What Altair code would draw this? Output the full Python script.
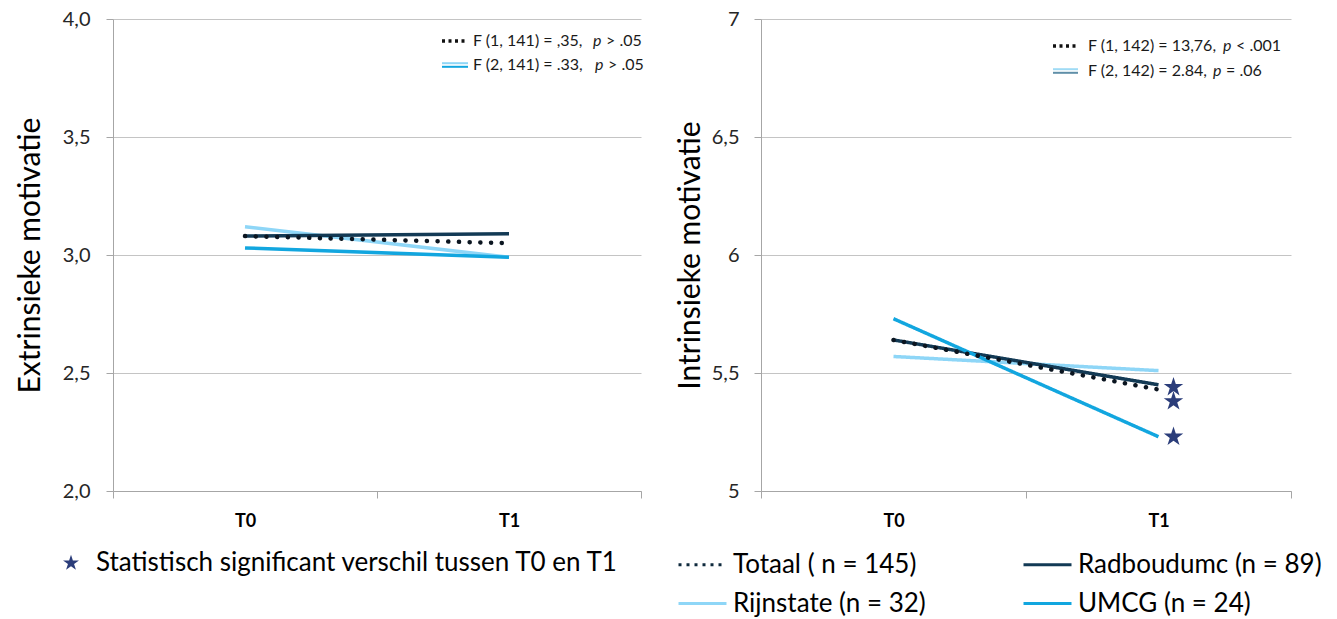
import altair as alt
import pandas as pd

FONT = "Lato"

# ---------------- data ----------------
tijdstippen = ["T0", "T1"]
groepen = ["Totaal ( n = 145)", "Rijnstate (n = 32)", "Radboudumc (n = 89)", "UMCG (n = 24)"]
kleuren = ["#0F2A3D", "#8ED6F7", "#133A55", "#12A6DF"]

extrinsiek_T0 = [3.08, 3.12, 3.08, 3.03]
extrinsiek_T1 = [3.05, 2.99, 3.09, 2.99]
intrinsiek_T0 = [5.64, 5.57, 5.64, 5.73]
intrinsiek_T1 = [5.43, 5.51, 5.45, 5.23]

sterren_groep = ["Radboudumc (n = 89)", "Totaal ( n = 145)", "UMCG (n = 24)"]
sterren_waarde = [5.44, 5.38, 5.23]
sterren_label = "Statistisch significant verschil tussen T0 en T1"

extr_ticks = [2.0, 2.5, 3.0, 3.5, 4.0]
intr_ticks = [5.0, 5.5, 6.0, 6.5, 7.0]

ann_links = [("F (1, 141) = ,35,", "p", "> .05"), ("F (2, 141) = .33,", "p", "> .05")]
ann_rechts = [("F (1, 142) = 13,76,", "p", "< .001"), ("F (2, 142) = 2.84,", "p", "= .06")]

STAR = ("M0,-1L0.2245,-0.309L0.9511,-0.309L0.3633,0.118L0.5878,0.809L0,0.382"
        "L-0.5878,0.809L-0.3633,0.118L-0.9511,-0.309L-0.2245,-0.309Z")
STAR_COLOR = "#2B3D7A"


def long_df(v0, v1):
    rows = []
    for g, a, b in zip(groepen, v0, v1):
        rows.append({"groep": g, "tijd": "T0", "waarde": a})
        rows.append({"groep": g, "tijd": "T1", "waarde": b})
    return pd.DataFrame(rows)


df_extr = long_df(extrinsiek_T0, extrinsiek_T1)
df_intr = long_df(intrinsiek_T0, intrinsiek_T1)
df_ster = pd.DataFrame({"groep": sterren_groep, "tijd": ["T1"] * len(sterren_groep),
                        "waarde": sterren_waarde, "label": [sterren_label] * len(sterren_groep)})

GRAY = "#A6A6A6"
TOTAAL = groepen[0]


def x_enc():
    return alt.X("tijd:N", sort=tijdstippen, bandPosition=0.5,
                 scale=alt.Scale(type="band", paddingInner=0, paddingOuter=0),
                 axis=alt.Axis(title=None, labelFont=FONT, labelFontSize=18, labelFontWeight="bold",
                               labelColor="black", labelPadding=14, tickBand="extent", tickSize=7,
                               tickColor=GRAY, domainColor=GRAY, labelAngle=0, grid=False))


def y_enc(domain, ticks, title, fmt, label_pad, title_pad):
    return alt.Y("waarde:Q", scale=alt.Scale(domain=domain, nice=False, zero=False),
                 axis=alt.Axis(values=ticks,
                               labelExpr="replace(format(datum.value, '" + fmt + "'), '.', ',')",
                               title=title, titleFontSize=30, titleFontWeight="normal", titleFont=FONT,
                               titleColor="black", labelFontSize=20, labelFont=FONT, labelColor="#262626",
                               tickSize=7, tickColor=GRAY, domainColor=GRAY, gridColor="#C4C4C4",
                               labelPadding=label_pad, titlePadding=title_pad))


def annotations(rows, x0, xp, y0, dy, sample_x, sample_w, second_colors):
    layers = []
    for i, (pre, p, post) in enumerate(rows):
        y = y0 + i * dy
        for txt, xx, style in [(pre, x0, "normal"), (p, xp[i], "italic"), (post, xp[i] + 13, "normal")]:
            layers.append(
                alt.Chart(pd.DataFrame({"t": [txt]})).mark_text(
                    align="left", baseline="middle", font=FONT, fontSize=16, fontStyle=style, color="#1a1a1a"
                ).encode(x=alt.value(xx), y=alt.value(y), text="t:N")
            )
    layers.append(
        alt.Chart(pd.DataFrame({"a": [0]})).mark_rule(strokeWidth=3.5, strokeDash=[3, 3.5], color="#111111")
        .encode(x=alt.value(sample_x), x2=alt.value(sample_x + sample_w), y=alt.value(y0))
    )
    y2 = y0 + dy
    layers.append(
        alt.Chart(pd.DataFrame({"a": [0]})).mark_rule(strokeWidth=2, color=second_colors[0])
        .encode(x=alt.value(sample_x), x2=alt.value(sample_x + sample_w), y=alt.value(y2 - 1.8))
    )
    layers.append(
        alt.Chart(pd.DataFrame({"a": [0]})).mark_rule(strokeWidth=2, color=second_colors[1])
        .encode(x=alt.value(sample_x), x2=alt.value(sample_x + sample_w), y=alt.value(y2 + 1.8))
    )
    return layers


color_scale = alt.Scale(domain=groepen, range=kleuren)
dash_scale = alt.Scale(domain=groepen, range=[[3, 5], [1, 0], [1, 0], [1, 0]])
star_scale = alt.Scale(domain=[sterren_label], range=[STAR])

# ---------------- left panel ----------------
yl = y_enc([2, 4], extr_ticks, "Extrinsieke motivatie", ".1f", 16, 17)
left_groups = alt.Chart(df_extr[df_extr.groep != TOTAAL]).mark_line(strokeWidth=3.5).encode(
    x=x_enc(), y=yl,
    color=alt.Color("groep:N", scale=color_scale, legend=None),
)
left_tot = alt.Chart(df_extr[df_extr.groep == TOTAAL]).mark_line(
    strokeWidth=4.5, strokeDash=[0.1, 10.6], strokeCap="round", color="#0B1520"
).encode(x=x_enc(), y=yl)

# legend carrier for the star symbol (no visible marks in this panel)
left_star_legend = alt.Chart(df_ster).transform_filter("false").mark_point(
    filled=True, size=420, color=STAR_COLOR, opacity=1
).encode(
    x=x_enc(), y=yl,
    shape=alt.Shape("label:N", scale=star_scale,
                    legend=alt.Legend(orient="none", legendX=-55, legendY=531, title=None,
                                      symbolSize=280, labelFont=FONT, labelFontSize=26,
                                      labelColor="black", labelOffset=12, labelLimit=700)),
)

left = alt.layer(
    left_groups, left_tot, left_star_legend,
    *annotations(ann_links, 360, [480, 482], 22, 24, 329, 26, ["#8FD6F6", "#12A6DF"])
).properties(width=528, height=472)

# ---------------- right panel ----------------
yr = y_enc([5, 7], intr_ticks, "Intrinsieke motivatie", ".1~f", 15, 6)
legend_groups = alt.Legend(orient="none", legendX=-84, legendY=520, columns=2, title=None,
                           symbolType="stroke", symbolSize=2304, symbolStrokeWidth=3,
                           labelFont=FONT, labelFontSize=26, labelColor="black", labelOffset=5,
                           labelLimit=500, rowPadding=-6, columnPadding=91)
right_groups = alt.Chart(df_intr[df_intr.groep != TOTAAL]).mark_line(strokeWidth=3.5).encode(
    x=x_enc(), y=yr,
    color=alt.Color("groep:N", scale=color_scale, legend=legend_groups),
    strokeDash=alt.StrokeDash("groep:N", scale=dash_scale, legend=legend_groups),
)
right_tot = alt.Chart(df_intr[df_intr.groep == TOTAAL]).mark_line(
    strokeWidth=4.5, strokeDash=[0.1, 10.6], strokeCap="round", color="#0B1520"
).encode(x=x_enc(), y=yr)

stars = alt.Chart(df_ster).mark_point(filled=True, size=420, color=STAR_COLOR, opacity=1, xOffset=15).encode(
    x=x_enc(), y=yr,
    shape=alt.Shape("label:N", scale=star_scale, legend=None),
)

right = alt.layer(
    right_groups, right_tot, stars,
    *annotations(ann_rechts, 327, [462, 452], 27, 25, 292, 25, ["#9FDBF5", "#5F8FA8"])
).properties(width=530, height=472)

chart = alt.hconcat(left, right, spacing=120, bounds="flush").resolve_scale(
    color="independent", strokeDash="independent", shape="independent"
).resolve_legend(
    color="independent", strokeDash="independent", shape="independent"
).properties(
    padding={"left": 14, "top": 8, "right": 0, "bottom": 0}
).configure_view(stroke="transparent")

chart.save("out.html", embed_options={"renderer": "svg", "actions": False})
